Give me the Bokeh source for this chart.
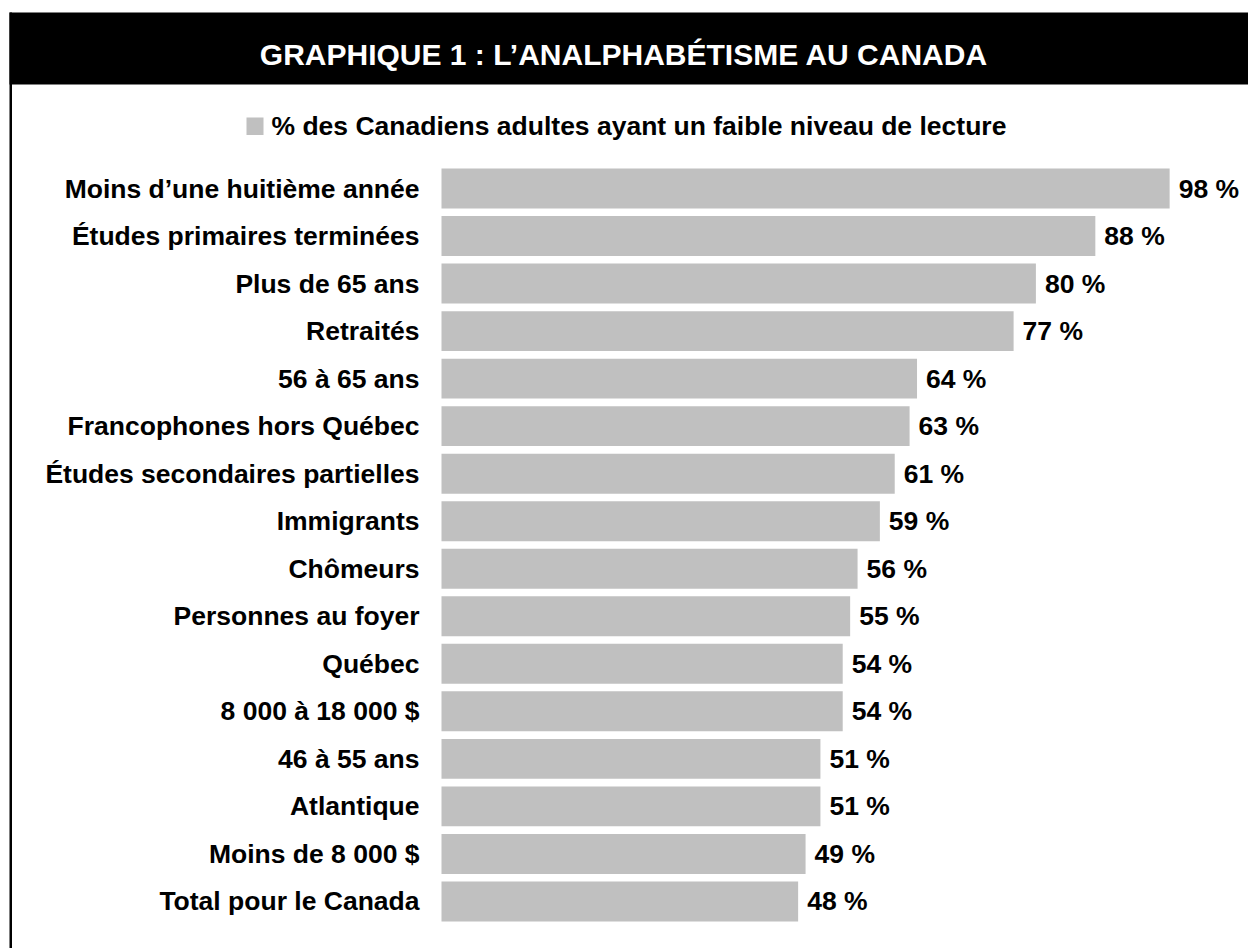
from bokeh.plotting import figure
from bokeh.models import Range1d, ColumnDataSource
from bokeh.core.properties import value
from bokeh.embed import file_html
from bokeh.resources import INLINE

# ---- data ----
categories = [
    "Moins d’une huitième année",
    "Études primaires terminées",
    "Plus de 65 ans",
    "Retraités",
    "56 à 65 ans",
    "Francophones hors Québec",
    "Études secondaires partielles",
    "Immigrants",
    "Chômeurs",
    "Personnes au foyer",
    "Québec",
    "8 000 à 18 000 $",
    "46 à 55 ans",
    "Atlantique",
    "Moins de 8 000 $",
    "Total pour le Canada",
]
values_pct = [98, 88, 80, 77, 64, 63, 61, 59, 56, 55, 54, 54, 51, 51, 49, 48]
title_text = "GRAPHIQUE 1 : L’ANALPHABÉTISME AU CANADA"
legend_text = "% des Canadiens adultes ayant un faible niveau de lecture"

FONT = "Liberation Sans"
BAR = "#c0c0c0"
W, H = 1248, 948

# layout geometry (pixels) -> scales
X0, SX = 441.0, 7.43      # pixel of 0 %, pixels per percent
Y0, SY = 188.0, 47.53     # pixel centre of first row, row pitch


def px(xp):
    return (xp - X0) / SX


def py(yp):
    return (yp - Y0) / SY


rows = list(range(len(categories)))
src = ColumnDataSource(dict(
    row=rows,
    cat=categories,
    val=values_pct,
    lbl=[f"{v} %" for v in values_pct],
))

p = figure(
    width=W, height=H, title=None,
    x_range=Range1d(px(0), px(W)),
    y_range=Range1d(py(H), py(0)),
    output_backend="svg", toolbar_location=None,
    x_axis_location=None, y_axis_location=None,
    min_border=0,
    background_fill_color="white", border_fill_color="white",
    outline_line_color=None,
)
p.grid.grid_line_color = None

# header band and frame line
p.quad(left=[px(9)], right=[px(W + 2)], top=[py(12)], bottom=[py(84)],
       fill_color="black", line_color=None)
p.quad(left=[px(9)], right=[px(11.5)], top=[py(12)], bottom=[py(H + 2)],
       fill_color="black", line_color=None)
p.text(x=[px(623.5)], y=[py(54)], text=[title_text],
       text_align="center", text_baseline="middle",
       text_font=value(FONT), text_font_style="bold",
       text_font_size="30px", text_color="white")

# legend
p.quad(left=[px(246)], right=[px(263)], top=[py(117)], bottom=[py(134.5)],
       fill_color=BAR, line_color=None)
p.text(x=[px(271)], y=[py(125.5)], text=[legend_text],
       text_align="left", text_baseline="middle",
       text_font=value(FONT), text_font_style="bold",
       text_font_size="26.5px", text_color="black")

# bars
p.hbar(y="row", left=0, right="val", height=0.84, source=src,
       fill_color=BAR, line_color=None)

# category labels
p.text(x=0, y="row", text="cat", source=src, x_offset=-22,
       text_align="right", text_baseline="middle",
       text_font=value(FONT), text_font_style="bold",
       text_font_size="26.5px", text_color="black")

# value labels
p.text(x="val", y="row", text="lbl", source=src, x_offset=9,
       text_align="left", text_baseline="middle",
       text_font=value(FONT), text_font_style="bold",
       text_font_size="26.5px", text_color="black")

open("out.html", "w").write(file_html(p, INLINE))
